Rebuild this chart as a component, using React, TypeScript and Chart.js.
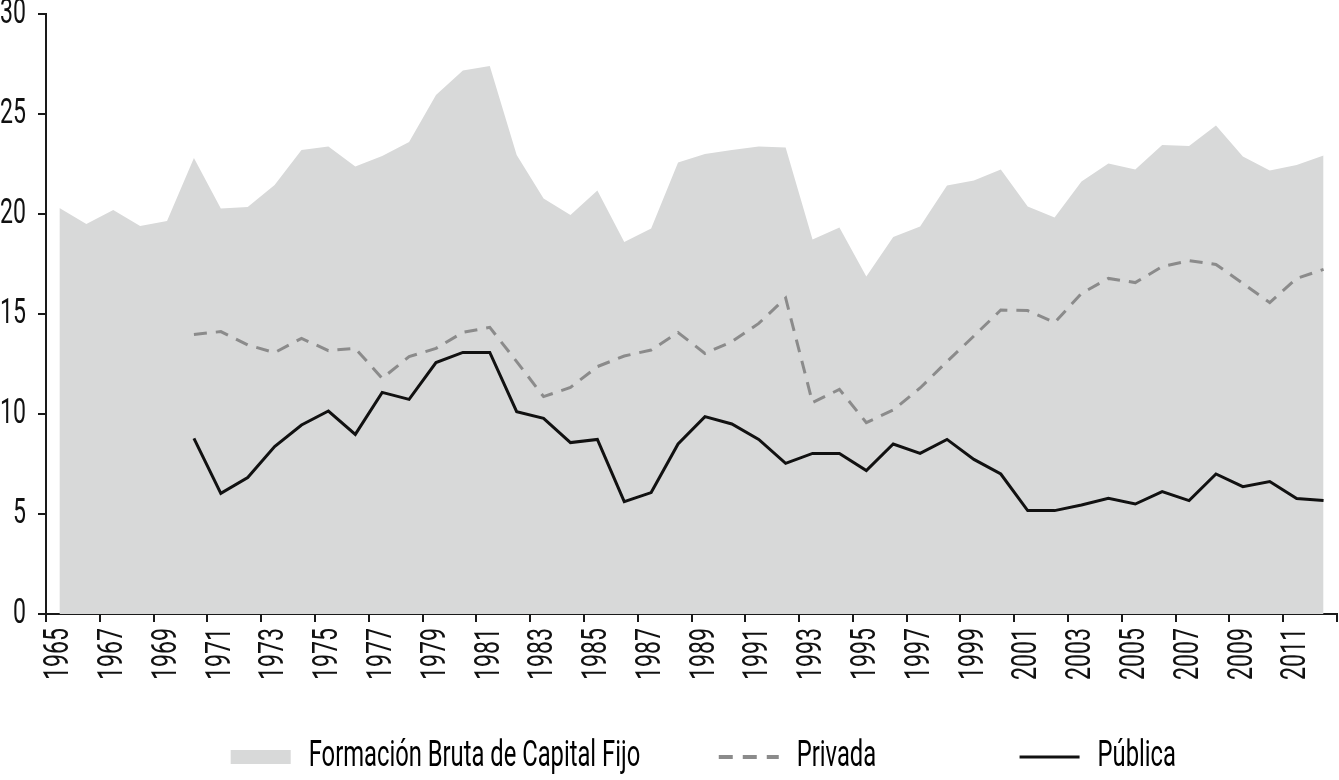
import React, { useEffect, useRef } from 'react';
import { Chart, registerables } from 'chart.js';

Chart.register(...registerables);

const years = [
  '1965', '1966', '1967', '1968', '1969', '1970', '1971', '1972', '1973', '1974',
  '1975', '1976', '1977', '1978', '1979', '1980', '1981', '1982', '1983', '1984',
  '1985', '1986', '1987', '1988', '1989', '1990', '1991', '1992', '1993', '1994',
  '1995', '1996', '1997', '1998', '1999', '2000', '2001', '2002', '2003', '2004',
  '2005', '2006', '2007', '2008', '2009', '2010', '2011', '2012',
];

const formacionBruta = [
  20.3, 19.5, 20.2, 19.4, 19.65, 22.8, 20.27, 20.35, 21.45, 23.2,
  23.37, 22.37, 22.9, 23.6, 25.95, 27.17, 27.4, 22.95, 20.78, 19.95,
  21.17, 18.6, 19.28, 22.57, 23.0, 23.2, 23.37, 23.33, 18.73, 19.33,
  16.87, 18.85, 19.37, 21.42, 21.67, 22.23, 20.37, 19.82, 21.62, 22.53,
  22.23, 23.45, 23.4, 24.42, 22.87, 22.17, 22.45, 22.92,
];

const privada = [
  null, null, null, null, null, 13.98, 14.12, 13.45, 13.07, 13.78,
  13.17, 13.28, 11.78, 12.87, 13.28, 14.08, 14.33, 12.62, 10.87, 11.33,
  12.37, 12.9, 13.2, 14.07, 13.03, 13.62, 14.53, 15.8, 10.57, 11.23,
  9.57, 10.2, 11.3, 12.62, 13.9, 15.2, 15.17, 14.57, 16.03, 16.78,
  16.57, 17.37, 17.67, 17.48, 16.53, 15.57, 16.78, 17.23,
];

const publica = [
  null, null, null, null, null, 8.78, 6.03, 6.82, 8.37, 9.45,
  10.15, 8.98, 11.08, 10.73, 12.57, 13.08, 13.08, 10.12, 9.78, 8.57,
  8.73, 5.62, 6.07, 8.5, 9.87, 9.5, 8.73, 7.53, 8.03, 8.03,
  7.17, 8.5, 8.03, 8.73, 7.73, 7.0, 5.17, 5.17, 5.45, 5.78,
  5.5, 6.12, 5.67, 7.0, 6.37, 6.62, 5.77, 5.67,
];

const seriesNames = ['Formación Bruta de Capital Fijo', 'Privada', 'Pública'];

const FONT = "Roboto, 'Liberation Sans', sans-serif";
const CONDENSE = 0.66; // horizontal squeeze of glyphs to mimic a condensed typeface
const AXIS = '#1a1a1a';
const AREA = '#d8d9d9';
const GREY = '#8b8b8b';
const BLACK = '#111111';

function condenseContext(ctx: CanvasRenderingContext2D) {
  const origFill = ctx.fillText.bind(ctx);
  const origMeasure = ctx.measureText.bind(ctx);
  (ctx as any).fillText = (text: string, x: number, y: number, maxWidth?: number) => {
    ctx.save();
    ctx.translate(x, y);
    ctx.scale(CONDENSE, 1);
    if (maxWidth === undefined) origFill(text, 0, 0);
    else origFill(text, 0, 0, maxWidth / CONDENSE);
    ctx.restore();
  };
  (ctx as any).measureText = (text: string) => {
    const m = origMeasure(text);
    return {
      width: m.width * CONDENSE,
      actualBoundingBoxLeft: m.actualBoundingBoxLeft * CONDENSE,
      actualBoundingBoxRight: m.actualBoundingBoxRight * CONDENSE,
      actualBoundingBoxAscent: m.actualBoundingBoxAscent,
      actualBoundingBoxDescent: m.actualBoundingBoxDescent,
      fontBoundingBoxAscent: m.fontBoundingBoxAscent,
      fontBoundingBoxDescent: m.fontBoundingBoxDescent,
    };
  };
}

export default function App() {
  const canvasRef = useRef<HTMLCanvasElement | null>(null);

  useEffect(() => {
    document.body.style.margin = '0';
    const canvas = canvasRef.current;
    if (!canvas) return;
    const ctx = canvas.getContext('2d');
    if (!ctx) return;
    condenseContext(ctx);

    const chart = new Chart(ctx, {
      type: 'line',
      data: {
        labels: years,
        datasets: [
          {
            label: seriesNames[0],
            data: formacionBruta,
            fill: 'origin',
            backgroundColor: AREA,
            borderColor: 'rgba(0,0,0,0)',
            borderWidth: 0,
            pointRadius: 0,
            tension: 0,
            order: 3,
          },
          {
            label: seriesNames[1],
            data: privada,
            fill: false,
            borderColor: GREY,
            borderWidth: 3,
            borderDash: [13, 9],
            pointRadius: 0,
            tension: 0,
            order: 2,
          },
          {
            label: seriesNames[2],
            data: publica,
            fill: false,
            borderColor: BLACK,
            borderWidth: 3,
            pointRadius: 0,
            tension: 0,
            order: 1,
          },
        ],
      },
      options: {
        animation: false,
        responsive: false,
        maintainAspectRatio: false,
        layout: { padding: { top: 14, right: 2, left: 0, bottom: 0 } },
        scales: {
          x: {
            type: 'category',
            offset: true,
            grid: {
              offset: true,
              drawOnChartArea: false,
              drawTicks: true,
              tickLength: 8,
              lineWidth: 2,
              tickWidth: 2,
              color: (c: any) => (c.index === undefined || c.index % 2 === 0 ? AXIS : 'rgba(0,0,0,0)'),
              tickColor: (c: any) => (c.index === undefined || c.index % 2 === 0 ? AXIS : 'rgba(0,0,0,0)'),
            },
            border: { display: true, color: AXIS, width: 2 },
            ticks: {
              autoSkip: false,
              minRotation: 90,
              maxRotation: 90,
              padding: 6,
              color: BLACK,
              font: { family: FONT, size: 35 },
              callback: function (this: any, value: any, index: number) {
                return index % 2 === 0 ? this.getLabelForValue(value) : '';
              },
            },
            afterFit: (scale: any) => {
              scale.height = 70;
              scale.paddingLeft = 0;
              scale.paddingRight = 0;
            },
          },
          y: {
            min: 0,
            max: 30,
            grid: {
              drawOnChartArea: false,
              drawTicks: true,
              tickLength: 8,
              lineWidth: 2,
              color: AXIS,
            },
            border: { display: true, color: AXIS, width: 2 },
            ticks: {
              stepSize: 5,
              padding: 12,
              color: BLACK,
              font: { family: FONT, size: 35 },
            },
            afterFit: (scale: any) => {
              scale.width = 46;
              scale.paddingTop = 0;
              scale.paddingBottom = 0;
            },
          },
        },
        plugins: {
          tooltip: { enabled: false },
          legend: {
            display: true,
            position: 'bottom',
            align: 'end',
            fullSize: false,
            maxHeight: 96,
            labels: {
              usePointStyle: true,
              pointStyleWidth: 60,
              boxWidth: 60,
              boxHeight: 14,
              padding: 55,
              color: BLACK,
              font: { family: FONT, size: 36 },
              generateLabels: (ch: any) => {
                const ds = ch.data.datasets;
                return [
                  {
                    text: ds[0].label + '    ',
                    fillStyle: AREA,
                    strokeStyle: AREA,
                    lineWidth: 0,
                    pointStyle: 'rect',
                    hidden: false,
                    datasetIndex: 0,
                  },
                  {
                    text: ds[1].label + '               ',
                    fillStyle: 'rgba(0,0,0,0)',
                    strokeStyle: GREY,
                    lineWidth: 4,
                    lineDash: [14, 10],
                    pointStyle: 'line',
                    hidden: false,
                    datasetIndex: 1,
                  },
                  {
                    text: ds[2].label + '                  ',
                    fillStyle: 'rgba(0,0,0,0)',
                    strokeStyle: BLACK,
                    lineWidth: 3,
                    pointStyle: 'line',
                    hidden: false,
                    datasetIndex: 2,
                  },
                ];
              },
            },
          },
        },
      },
    } as any);

    return () => {
      chart.destroy();
    };
  }, []);

  return (
    <div style={{ width: 1339, height: 780 }}>
      <canvas ref={canvasRef} width={1339} height={780} style={{ display: 'block' }} />
    </div>
  );
}
